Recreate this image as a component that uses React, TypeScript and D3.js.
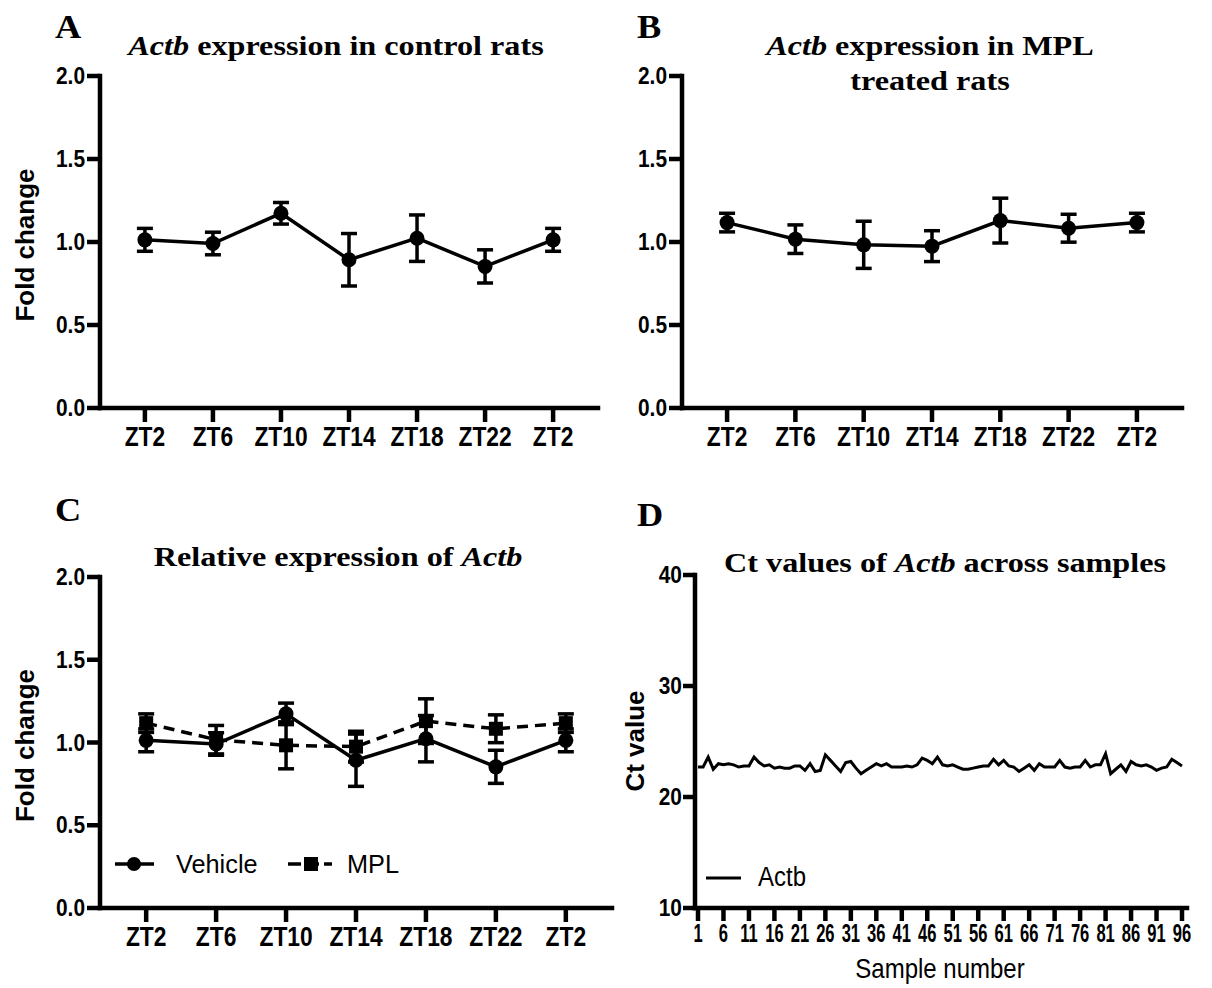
import React from "react";
import * as d3 from "d3";

const ztLabels = ["ZT2", "ZT6", "ZT10", "ZT14", "ZT18", "ZT22", "ZT2"];
const vehicleMean = [1.013, 0.991, 1.173, 0.893, 1.023, 0.853, 1.013];
const vehicleErr = [0.069, 0.068, 0.065, 0.158, 0.14, 0.1, 0.069];
const mplMean = [1.117, 1.017, 0.983, 0.975, 1.129, 1.083, 1.117];
const mplErr = [0.056, 0.086, 0.142, 0.093, 0.135, 0.084, 0.056];
const foldTicks = [0, 0.5, 1.0, 1.5, 2.0];

const ctValues = [
  22.7, 22.7, 23.6, 22.5, 23.0, 22.9, 23.0, 22.9, 22.7, 22.8,
  22.8, 23.6, 23.1, 22.8, 22.9, 22.6, 22.7, 22.6, 22.6, 22.8,
  22.8, 22.4, 23.0, 22.3, 22.4, 23.8, 23.3, 22.8, 22.3, 23.1,
  23.2, 22.6, 22.1, 22.4, 22.7, 23.0, 22.8, 23.0, 22.7, 22.7,
  22.7, 22.8, 22.7, 22.9, 23.5, 23.3, 23.0, 23.6, 22.9, 22.8,
  22.9, 22.7, 22.5, 22.5, 22.6, 22.7, 22.8, 22.8, 23.4, 22.9,
  23.3, 22.8, 22.7, 22.3, 22.6, 22.9, 22.4, 23.0, 22.7, 22.7,
  22.7, 23.3, 22.7, 22.6, 22.7, 22.7, 23.3, 22.7, 22.9, 22.9,
  23.9, 22.1, 22.5, 22.9, 22.3, 23.2, 22.9, 22.8, 22.9, 22.7,
  22.4, 22.6, 22.7, 23.4, 23.1, 22.8,
];
const ctTicks = [10, 20, 30, 40];
const sampleTicks = [1, 6, 11, 16, 21, 26, 31, 36, 41, 46, 51, 56, 61, 66, 71, 76, 81, 86, 91, 96];

const SANS = "'Liberation Sans', Arial, sans-serif";
const SERIF = "'Liberation Serif', 'Times New Roman', serif";
const AX = 4.5;
const LW = 3.5;

type Series = { mean: number[]; err: number[]; marker: "circle" | "square"; dashed: boolean };

function FoldPanel(props: {
  x0: number; x1: number; yTop: number; yBot: number; series: Series[]; yLabel: boolean;
}) {
  const { x0, x1, yTop, yBot, series, yLabel } = props;
  const idx = ztLabels.map((_, i) => String(i));
  const x = d3.scalePoint<string>().domain(idx).range([x0, x1]).padding(0.66);
  const y = d3.scaleLinear().domain([0, 2]).range([yBot, yTop]);
  return (
    <g>
      <line x1={x0} x2={x0} y1={yTop} y2={yBot} stroke="#000" strokeWidth={AX} strokeLinecap="square" />
      <line x1={x0} x2={x1} y1={yBot} y2={yBot} stroke="#000" strokeWidth={AX} strokeLinecap="square" />
      {foldTicks.map((t) => (
        <g key={t}>
          <line x1={x0 - 13} x2={x0} y1={y(t)} y2={y(t)} stroke="#000" strokeWidth={AX} />
          <text transform={`translate(${x0 - 15},${y(t) + 8}) scale(0.95,1.12)`} textAnchor="end"
            fontFamily={SANS} fontWeight="bold" fontSize={22}>
            {t.toFixed(1)}
          </text>
        </g>
      ))}
      {idx.map((k, i) => (
        <g key={k}>
          <line x1={x(k)!} x2={x(k)!} y1={yBot} y2={yBot + 14} stroke="#000" strokeWidth={AX} />
          <text transform={`translate(${x(k)!},${yBot + 38}) scale(0.95,1.15)`} textAnchor="middle"
            fontFamily={SANS} fontWeight="bold" fontSize={24}>
            {ztLabels[i]}
          </text>
        </g>
      ))}
      {yLabel && (
        <text
          transform={`translate(${34},${(yTop + yBot) / 2 + 3}) rotate(-90)`}
          textAnchor="middle" fontFamily={SANS} fontWeight="bold" fontSize={26}
        >
          Fold change
        </text>
      )}
      {series.map((s, si) => {
        const line = d3.line<number>().x((_, i) => x(String(i))!).y((v) => y(v));
        return (
          <g key={si}>
            <path d={line(s.mean) || ""} fill="none" stroke="#000" strokeWidth={LW}
              strokeDasharray={s.dashed ? "11,7" : undefined} />
            {s.mean.map((m, i) => {
              const cx = x(String(i))!;
              const hi = y(m + s.err[i]);
              const lo = y(m - s.err[i]);
              return (
                <g key={i}>
                  <line x1={cx} x2={cx} y1={hi} y2={lo} stroke="#000" strokeWidth={LW} />
                  <line x1={cx - 8} x2={cx + 8} y1={hi} y2={hi} stroke="#000" strokeWidth={LW} />
                  <line x1={cx - 8} x2={cx + 8} y1={lo} y2={lo} stroke="#000" strokeWidth={LW} />
                  {s.marker === "circle" ? (
                    <circle cx={cx} cy={y(m)} r={7.5} fill="#000" />
                  ) : (
                    <rect x={cx - 7} y={y(m) - 7} width={14} height={14} fill="#000" />
                  )}
                </g>
              );
            })}
          </g>
        );
      })}
    </g>
  );
}

function Title(props: { cx: number; y: number; parts: [string, boolean][] }) {
  return (
    <text transform={`translate(${props.cx},${props.y}) scale(1.15,1)`} textAnchor="middle"
      fontFamily={SERIF} fontWeight="bold" fontSize={28}>
      {props.parts.map(([t, it], i) => (
        <tspan key={i} fontStyle={it ? "italic" : "normal"}>{t}</tspan>
      ))}
    </text>
  );
}

function Letter(props: { x: number; y: number; t: string }) {
  return (
    <text transform={`translate(${props.x},${props.y}) scale(1.1,1)`} fontFamily={SERIF} fontWeight="bold" fontSize={33}>
      {props.t}
    </text>
  );
}

function CtPanel() {
  const x0 = 695, x1 = 1187, yTop = 575, yBot = 908;
  const x = d3.scaleLinear().domain([1, 96]).range([698, 1182]);
  const y = d3.scaleLinear().domain([10, 40]).range([yBot, yTop]);
  const line = d3.line<number>().x((_, i) => x(i + 1)).y((v) => y(v));
  return (
    <g>
      <line x1={x0} x2={x0} y1={yTop} y2={yBot} stroke="#000" strokeWidth={AX} strokeLinecap="square" />
      <line x1={x0} x2={x1} y1={yBot} y2={yBot} stroke="#000" strokeWidth={AX} strokeLinecap="square" />
      {ctTicks.map((t) => (
        <g key={t}>
          <line x1={x0 - 12} x2={x0} y1={y(t)} y2={y(t)} stroke="#000" strokeWidth={AX} />
          <text transform={`translate(${x0 - 13},${y(t) + 8}) scale(0.95,1.12)`} textAnchor="end"
            fontFamily={SANS} fontWeight="bold" fontSize={22}>
            {t}
          </text>
        </g>
      ))}
      {sampleTicks.map((t) => (
        <g key={t}>
          <line x1={x(t)} x2={x(t)} y1={yBot} y2={yBot + 13} stroke="#000" strokeWidth={AX} />
          <text transform={`translate(${x(t)},${yBot + 34}) scale(0.72,1.12)`} textAnchor="middle"
            fontFamily={SANS} fontWeight="bold" fontSize={23}>
            {t}
          </text>
        </g>
      ))}
      <path d={line(ctValues) || ""} fill="none" stroke="#000" strokeWidth={3} />
      <text transform={`translate(${644},${741}) rotate(-90)`} textAnchor="middle" fontFamily={SANS}
        fontWeight="bold" fontSize={26}>
        Ct value
      </text>
      <text transform={`translate(${940},${978}) scale(1,1.12)`} textAnchor="middle" fontFamily={SANS} fontSize={24}>
        Sample number
      </text>
      <line x1={706} x2={741} y1={878} y2={878} stroke="#000" strokeWidth={3} />
      <text transform={`translate(${758},${886}) scale(1,1.12)`} fontFamily={SANS} fontSize={24}>Actb</text>
    </g>
  );
}

export default function App() {
  return (
    <svg width={1212} height={988} viewBox="0 0 1212 988"
      style={{ position: "absolute", left: 0, top: 0, background: "#fff" }}>
      <rect x={0} y={0} width={1212} height={988} fill="#fff" />
      <Letter x={55} y={38} t="A" />
      <Letter x={637} y={38} t="B" />
      <Letter x={55} y={521} t="C" />
      <Letter x={637} y={526} t="D" />

      <Title cx={336} y={55} parts={[["Actb", true], [" expression in control rats", false]]} />
      <Title cx={930} y={55} parts={[["Actb", true], [" expression in MPL", false]]} />
      <Title cx={930} y={90} parts={[["treated rats", false]]} />
      <Title cx={338} y={566} parts={[["Relative expression of ", false], ["Actb", true]]} />
      <Title cx={945} y={572} parts={[["Ct values of ", false], ["Actb", true], [" across samples", false]]} />

      <FoldPanel x0={100} x1={598} yTop={76} yBot={408} yLabel={true}
        series={[{ mean: vehicleMean, err: vehicleErr, marker: "circle", dashed: false }]} />
      <FoldPanel x0={682} x1={1182} yTop={76} yBot={408} yLabel={false}
        series={[{ mean: mplMean, err: mplErr, marker: "circle", dashed: false }]} />
      <FoldPanel x0={100} x1={612} yTop={577} yBot={908} yLabel={true}
        series={[
          { mean: vehicleMean, err: vehicleErr, marker: "circle", dashed: false },
          { mean: mplMean, err: mplErr, marker: "square", dashed: true },
        ]} />

      <line x1={115} x2={154} y1={864} y2={864} stroke="#000" strokeWidth={LW} />
      <circle cx={134} cy={864} r={7} fill="#000" />
      <text transform={`translate(${176},${873}) scale(1.1,1.15)`} fontFamily={SANS} fontSize={23}>Vehicle</text>
      <line x1={288} x2={332} y1={864} y2={864} stroke="#000" strokeWidth={LW} strokeDasharray="13,5" />
      <rect x={304} y={857} width={14} height={14} fill="#000" />
      <text transform={`translate(${347},${873}) scale(1.1,1.15)`} fontFamily={SANS} fontSize={23}>MPL</text>

      <CtPanel />
    </svg>
  );
}
